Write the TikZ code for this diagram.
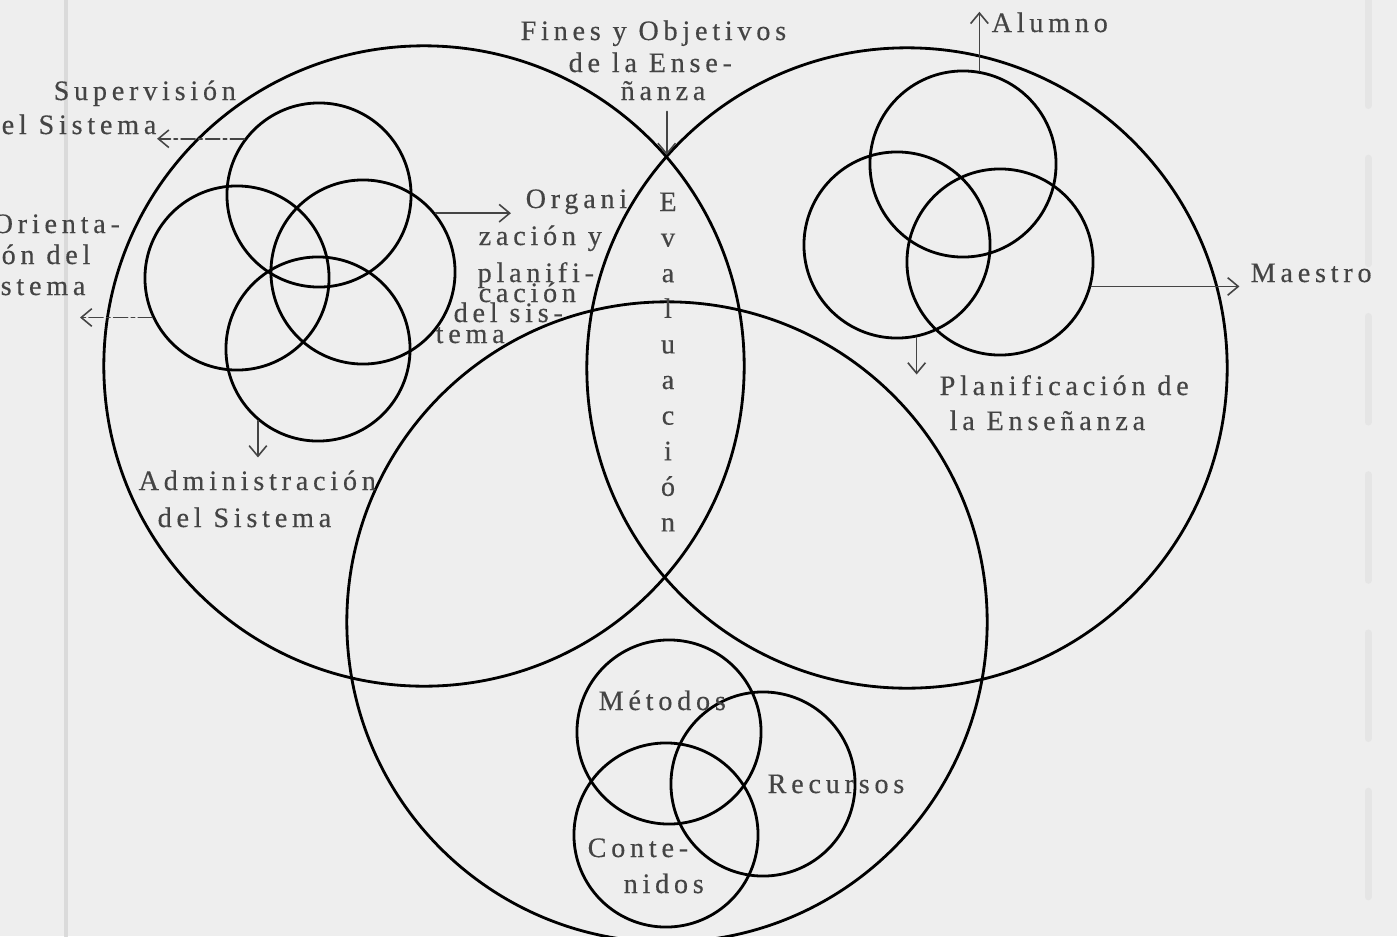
\documentclass[tikz,border=0pt]{standalone}
\usepackage{fontspec}
\usepackage{tikz}
\usetikzlibrary{arrows.meta}

\newfontfamily\typedfont[LetterSpace=17,Ligatures=NoCommon,FakeBold=0.4]{Liberation Serif}
\newcommand{\typed}{\typedfont\fontsize{8pt}{10pt}\selectfont}
\definecolor{paper}{HTML}{EEEEEE}
\definecolor{ink}{HTML}{444444}
\definecolor{scan}{HTML}{DADADA}

\begin{document}
\begin{tikzpicture}[
			x=0.01cm, y=-0.01cm,
			every node/.style={inner sep=0pt},
			line cap=round,
			line join=round,
			ring/.style={circle, draw=black, line width=0.8pt, minimum size=1.84cm},
			bigring/.style={ring, minimum size=6.4cm},
			words/.style={anchor=base west, text=ink, font=\typed},
			lead/.style={draw=ink, line width=0.45pt, -{Straight Barb[length=3pt,width=5pt]}},
			broken/.style={dash pattern=on 4pt off 1pt on 1pt off 1pt}
			]
			% Paper
			\fill[paper] (0,0) rectangle (1397,936);
			\useasboundingbox (0,0) rectangle (1397,936);
			\draw[scan, line width=1.2pt] (66,0) -- (66,936);
			\draw[scan!45!paper, line width=2pt, dash pattern=on 30pt off 15pt] (1368,0) -- (1368,936);
			
			% Big circles
			\node[bigring] (sistema) at (424,366) {};
			\node[bigring] (ensenanza) at (907,368) {};
			\node[bigring] (curriculo) at (667,622) {};
			
			% System cluster
			\node[ring] (sup) at (319,195) {};
			\node[ring] (ori) at (237,278) {};
			\node[ring] (org) at (363,272) {};
			\node[ring] (adm) at (318,349) {};
			
			% Teaching cluster
			\node[ring, minimum size=1.86cm] (alu) at (963,164) {};
			\node[ring, minimum size=1.86cm] (pla) at (897,245) {};
			\node[ring, minimum size=1.86cm] (mae) at (1000,262) {};
			
			% Curriculum cluster
			\node[ring] (met) at (669,732) {};
			\node[ring] (rec) at (763,784) {};
			\node[ring] (con) at (666,835) {};
			
			% Labels
			\node[words] (supA) at (53,100) {Supervisión};
			\node[words] (supB) at (1,134) {el Sistema};
			\node[words] (oriA) at (-8,233) {Orienta-};
			\node[words] (oriB) at (1,264) {ón del};
			\node[words] (oriC) at (0,295) {stema};
			\node[words] (finA) at (520,40) {Fines y Objetivos};
			\node[words] (finB) at (568,72) {de la Ense-};
			\node[words] (finC) at (620,100) {ñanza};
			\node[words] (orgA) at (525,208) {Organi};
			\node[words] (orgB) at (478,245) {zación y};
			\node[words] (orgC) at (477,282) {planifi-};
			\node[words] (orgD) at (478,302) {cación};
			\node[words] (orgE) at (453,322) {del sis-};
			\node[words] (orgF) at (435,343) {tema};
			\node[words] (admA) at (138,490) {Administración};
			\node[words] (admB) at (157,527) {del Sistema};
			\node[words] (aluT) at (991,32) {Alumno};
			\node[words] (maeT) at (1250,282) {Maestro};
			\node[words] (plaA) at (939,395) {Planificación de};
			\node[words] (plaB) at (949,430) {la Enseñanza};
			\node[words] (metT) at (598,710) {Métodos};
			\node[words] (recT) at (767,793) {Recursos};
			\node[words] (conA) at (587,857) {Conte-};
			\node[words] (conB) at (623,893) {nidos};
			
			% Evaluacion
			\foreach \ch [count=\i] in {E,v,a,l,u,a,c,i,ó,n}
			\node[words, anchor=base] (eva\i) at (668,{175.4+35.6*\i}) {\ch};
			
			% Arrows
			\coordinate (oriEnd) at (80,317);
			\draw[lead, broken] (sup.143) -- (sup.143 -| supB.east);
			\draw[lead, broken] (ori.205) -- (ori.205 -| oriEnd);
			\draw[lead, shorten >=4pt] (org.39) -- (org.39 -| orgA.west);
			\draw[lead, shorten >=3.5pt] (adm.230) -- (adm.230 |- admA.north);
			\draw[lead, shorten <=3pt] (finC.south -| sistema.41) -- (sistema.41);
			\draw[lead] (alu.80) -- (alu.80 |- aluT.north);
			\draw[lead, shorten >=3pt] (mae.-15) -- (mae.-15 -| maeT.west);
			\draw[lead] (pla.-78) -- (pla.-78 |- plaA.north);
		\end{tikzpicture}
\end{document}
